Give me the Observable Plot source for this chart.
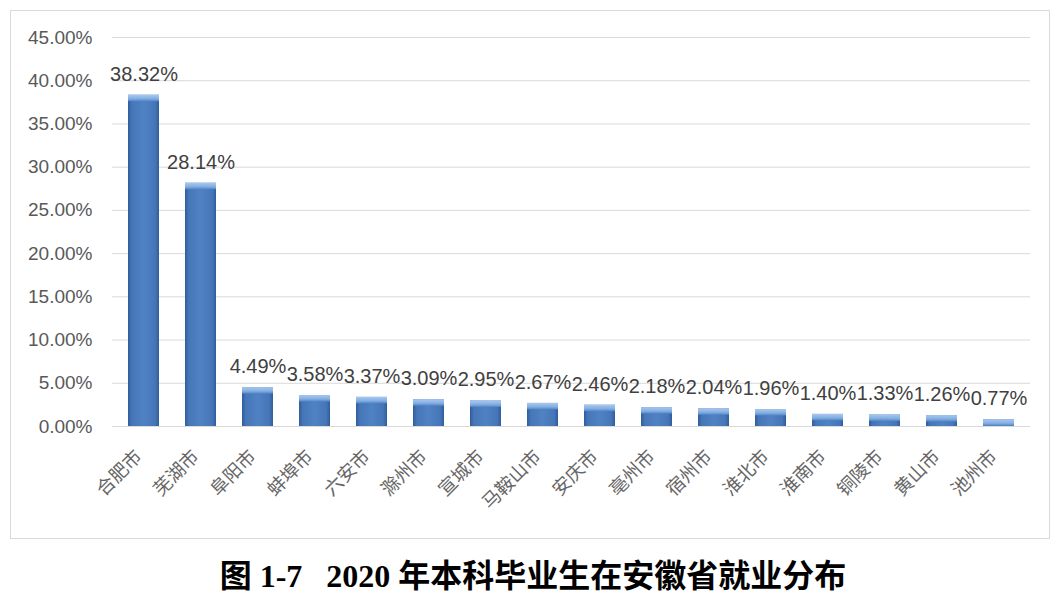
<!DOCTYPE html>
<html><head><meta charset="utf-8">
<script src="https://cdn.jsdelivr.net/npm/d3@7"></script>
<script src="https://cdn.jsdelivr.net/npm/@observablehq/plot@0.6"></script>
<style>
body{margin:0;background:#fff;width:1062px;height:598px;position:relative;overflow:hidden}
#frame{position:absolute;left:10px;top:10px;width:1038px;height:527px;border:1px solid #d9d9d9}
#title{position:absolute;left:0;width:1066px;top:555px;text-align:center;font-family:"Liberation Serif","Noto Sans CJK SC";font-weight:bold;font-size:32px;color:#000;white-space:pre;line-height:42px}
</style></head><body>
<div id="frame"></div>
<div id="title">图 1-7   2020 年本科毕业生在安徽省就业分布</div>
<script>
const cities = ["合肥市","芜湖市","阜阳市","蚌埠市","六安市","滁州市","宣城市","马鞍山市","安庆市","亳州市","宿州市","淮北市","淮南市","铜陵市","黄山市","池州市"];
const shares = [38.32,28.14,4.49,3.58,3.37,3.09,2.95,2.67,2.46,2.18,2.04,1.96,1.40,1.33,1.26,0.77];
const yTicks = [0,5,10,15,20,25,30,35,40,45];

const data = cities.map((c,i)=>({city:c, v:shares[i]}));

const svg = Plot.plot({
  width: 1038,
  height: 527,
  marginLeft: 101,
  marginRight: 19,
  marginTop: 26,
  marginBottom: 112,
  style: {fontFamily: "'Liberation Sans', 'Noto Sans CJK SC', sans-serif", background: "transparent"},
  x: {domain: cities, paddingInner: 0.46, paddingOuter: 0.23, label: null, axis: null},
  y: {domain: [0,45], label: null},
  marks: [
    Plot.gridY(yTicks, {stroke: "#d9d9d9", strokeOpacity: 1}),
    Plot.axisY(yTicks, {tickFormat: d => d.toFixed(2) + "%", tickSize: 0, tickPadding: 20, fontSize: 19, fill: "#595959", label: null}),
    Plot.barY(data, {x: "city", y: "v", fill: "url(#barGrad)"}),
    Plot.rectY(data, {x: "city", y1: d => Math.max(0, d.v - 0.75), y2: "v", fill: "url(#capGrad)"}),
    Plot.ruleY([0], {stroke: "#d9d9d9"}),
    Plot.text(data, {x: "city", y: "v", text: d => d.v.toFixed(2) + "%", dy: -21, fontSize: 20, fill: "#404040"}),
    Plot.text(cities, {x: d => d, y: () => 0, text: d => d, rotate: -45, textAnchor: "end", lineAnchor: "middle", dx: -5, dy: 27, fontSize: 18.5, fill: "#666666", fontFamily: "'Noto Sans CJK SC', sans-serif"})
  ]
});

const defs = d3.select(svg).insert("defs", ":first-child");
const g1 = defs.append("linearGradient").attr("id","barGrad").attr("x1","0").attr("x2","1").attr("y1","0").attr("y2","0");
[["0%","#2f5d9a"],["12%","#4676b7"],["50%","#4f82c4"],["88%","#4676b7"],["100%","#2f5d9a"]].forEach(([o,c])=>g1.append("stop").attr("offset",o).attr("stop-color",c));
const g2 = defs.append("linearGradient").attr("id","capGrad").attr("x1","0").attr("x2","0").attr("y1","0").attr("y2","1");
[["0%","#a9c8ee"],["60%","#84aee2"],["100%","#5086c8"]].forEach(([o,c])=>g2.append("stop").attr("offset",o).attr("stop-color",c));

svg.style.position = "absolute";
svg.style.left = "11px";
svg.style.top = "11px";
document.body.appendChild(svg);
</script>
</body></html>
